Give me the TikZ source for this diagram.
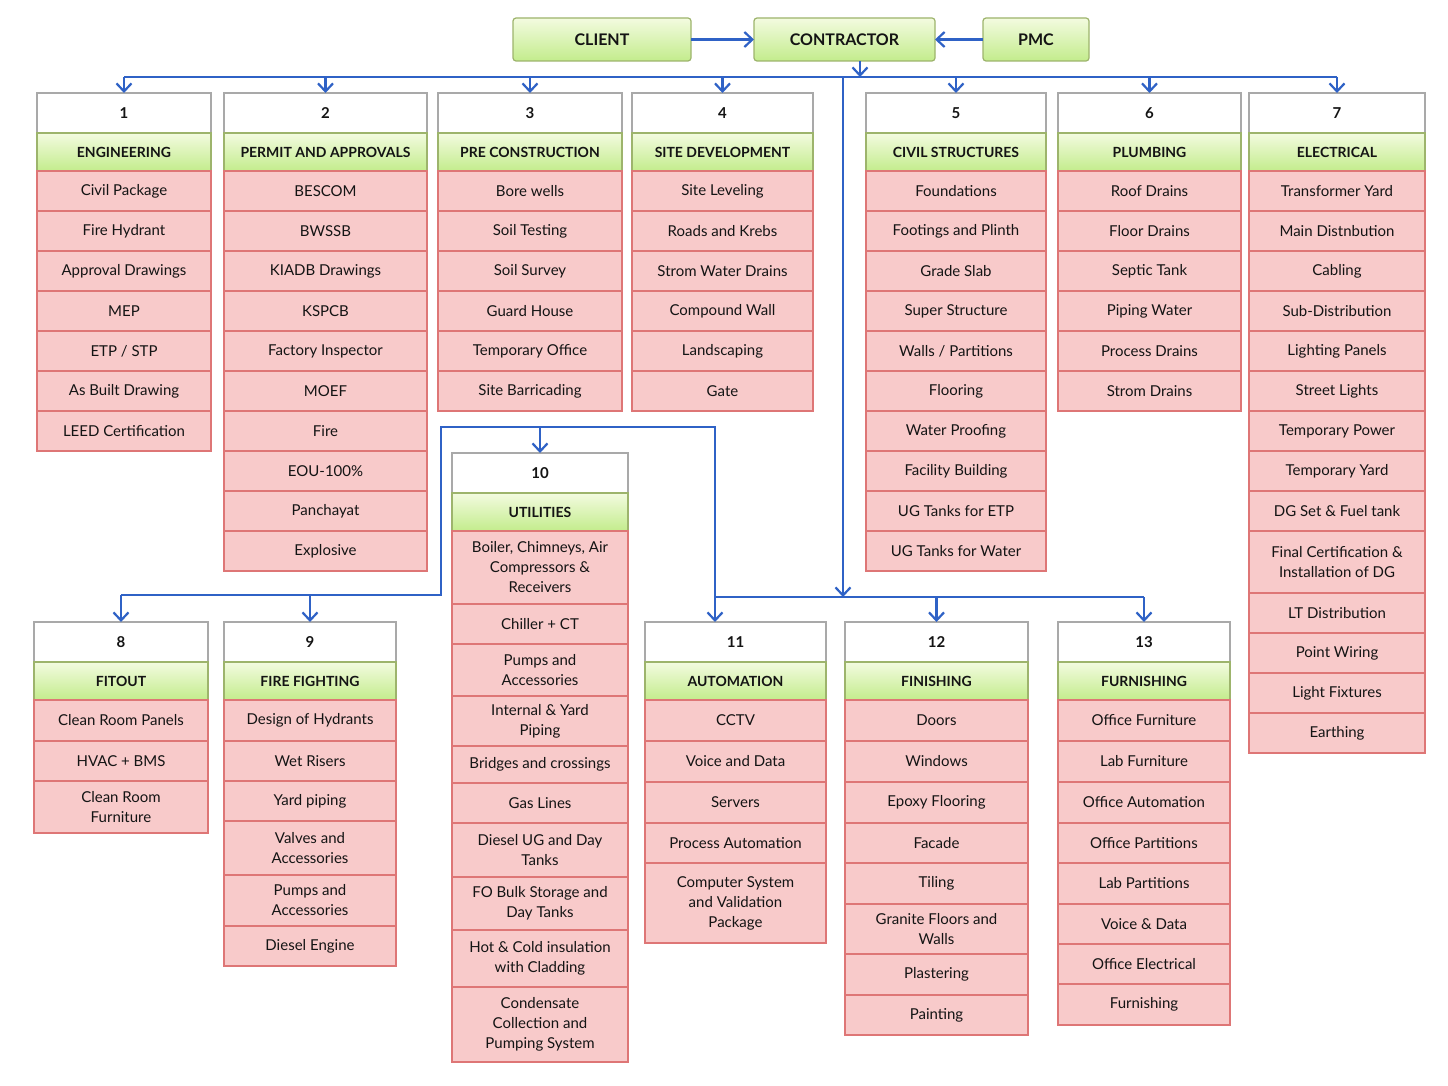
\documentclass[tikz,border=0pt]{standalone}
\usepackage{fontspec}
\setmainfont{Lato}
\usetikzlibrary{positioning,arrows.meta}

\definecolor{linkblue}{HTML}{2F62C6}
\definecolor{numgray}{HTML}{A9A9A9}
\definecolor{headtop}{HTML}{F3FBE0}
\definecolor{headbot}{HTML}{C3EC8C}
\definecolor{headline}{HTML}{9DB46C}
\definecolor{celledge}{HTML}{F8CACA}
\definecolor{cellmid}{HTML}{FCE4E4}
\definecolor{cellline}{HTML}{DE7676}
\definecolor{inkdark}{HTML}{141414}

% one column: name, x centre, y top, width, number, title, rows (height/text)
\newcommand{\wbscol}[7]{%
  \node[numbox, minimum width=#4, anchor=north] (#1) at (#2,#3) {#5};
  \node[headbox, minimum width=#4, below=0pt of #1] (#1-0) {#6};
  \foreach \rowh/\rowtxt [count=\n, remember=\n as \p (initially 0)] in {#7}
    \node[cellbox, minimum width=#4, minimum height=\rowh, below=0pt of #1-\p] (#1-\n) {\rowtxt};
}

\begin{document}
\begin{tikzpicture}[x=1pt,y=-1pt,
    numbox/.style={draw=numgray, fill=white, line width=1.2pt, minimum height=40,
      outer sep=0pt, inner sep=2pt, text=inkdark, font=\fontsize{15}{19}\selectfont\bfseries},
    headbox/.style={draw=headline, top color=headtop, bottom color=headbot, line width=1.2pt,
      minimum height=38, outer sep=0pt, inner sep=2pt, text=inkdark,
      font=\fontsize{14}{18}\selectfont\bfseries},
    cellbox/.style={draw=cellline, top color=celledge, middle color=cellmid, bottom color=celledge,
      line width=1.2pt, outer sep=0pt, inner sep=2pt, align=center, text=inkdark,
      font=\fontsize{15}{20}\selectfont},
    topbox/.style={draw=headline, top color=headtop, bottom color=headbot, line width=1.2pt,
      rounded corners=3pt, minimum height=43, outer sep=0pt, text=inkdark,
      font=\fontsize{16}{20}\selectfont\bfseries},
    linkline/.style={draw=linkblue, line width=2.2pt},
    link/.style={linkline, -{Straight Barb[length=8pt,width=15pt,line width=2.2pt]}}]

  \useasboundingbox[fill=white] (0,0) rectangle (1448,1086);

  % top row
  \node[topbox, minimum width=178] (client) at (602,39.5) {CLIENT};
  \node[topbox, minimum width=181] (contractor) at (844.5,39.5) {CONTRACTOR};
  \node[topbox, minimum width=106] (pmc) at (1036,39.5) {PMC};
  \draw[link] (client) -- (contractor);
  \draw[link] (pmc) -- (contractor);

  % upper columns
  \wbscol{c1}{124}{93}{174}{1}{ENGINEERING}{40/Civil Package, 40/Fire Hydrant,
    40/Approval Drawings, 40/MEP, 40/{ETP / STP}, 40/As Built Drawing, 40/LEED Certification}
  \wbscol{c2}{325.5}{93}{203}{2}{PERMIT AND APPROVALS}{40/BESCOM, 40/BWSSB,
    40/KIADB Drawings, 40/KSPCB, 40/Factory Inspector, 40/MOEF, 40/Fire, 40/EOU-100\%,
    40/Panchayat, 40/Explosive}
  \wbscol{c3}{530}{93}{184}{3}{PRE CONSTRUCTION}{40/Bore wells, 40/Soil Testing,
    40/Soil Survey, 40/Guard House, 40/Temporary Office, 40/Site Barricading}
  \wbscol{c4}{722.5}{93}{181}{4}{SITE DEVELOPMENT}{40/Site Leveling, 40/Roads and Krebs,
    40/Strom Water Drains, 40/Compound Wall, 40/Landscaping, 40/Gate}
  \wbscol{c5}{956}{93}{180}{5}{CIVIL STRUCTURES}{40/Foundations, 40/Footings and Plinth,
    40/Grade Slab, 40/Super Structure, 40/{Walls / Partitions}, 40/Flooring, 40/Water Proofing,
    40/Facility Building, 40/UG Tanks for ETP, 40/UG Tanks for Water}
  \wbscol{c6}{1149.5}{93}{183}{6}{PLUMBING}{40/Roof Drains, 40/Floor Drains,
    40/Septic Tank, 40/Piping Water, 40/Process Drains, 40/Strom Drains}
  \wbscol{c7}{1337}{93}{176}{7}{ELECTRICAL}{40/Transformer Yard, 40/Main Distnbution,
    40/Cabling, 40/Sub-Distribution, 40/Lighting Panels, 40/Street Lights,
    40/Temporary Power, 40/Temporary Yard, 40/DG Set \& Fuel tank,
    62/{Final Certification \&\\Installation of DG}, 40/LT Distribution, 40/Point Wiring,
    40/Light Fixtures, 40/Earthing}

  % lower columns
  \wbscol{c8}{121}{622}{174}{8}{FITOUT}{41/Clean Room Panels, 40/HVAC + BMS,
    52/{Clean Room\\Furniture}}
  \wbscol{c9}{310}{622}{172}{9}{FIRE FIGHTING}{41/Design of Hydrants, 40/Wet Risers,
    40/Yard piping, 54/{Valves and\\Accessories}, 51/{Pumps and\\Accessories},
    40/Diesel Engine}
  \wbscol{c10}{540}{453}{176}{10}{UTILITIES}{73/{Boiler, Chimneys, Air\\Compressors \&\\Receivers},
    40/Chiller + CT, 52/{Pumps and\\Accessories}, 50/{Internal \& Yard\\Piping},
    37/Bridges and crossings, 40/Gas Lines, 54/{Diesel UG and Day\\Tanks},
    53/{FO Bulk Storage and\\Day Tanks}, 57/{Hot \& Cold insulation\\with Cladding},
    75/{Condensate\\Collection and\\Pumping System}}
  \wbscol{c11}{735.5}{622}{181}{11}{AUTOMATION}{41/CCTV, 41/Voice and Data, 41/Servers,
    40/Process Automation, 80/{Computer System\\and Validation\\Package}}
  \wbscol{c12}{936.5}{622}{183}{12}{FINISHING}{41/Doors, 41/Windows, 41/Epoxy Flooring,
    40/Facade, 41/Tiling, 50/{Granite Floors and\\Walls}, 41/Plastering, 40/Painting}
  \wbscol{c13}{1144}{622}{172}{13}{FURNISHING}{41/Office Furniture, 41/Lab Furniture,
    41/Office Automation, 40/Office Partitions, 41/Lab Partitions, 40/Voice \& Data,
    40/Office Electrical, 41/Furnishing}

  % connectors
  \coordinate (drop) at (860,77);
  \coordinate (trunk) at (843,77);
  \coordinate (lowbus) at (843,597);
  \coordinate (jA) at (441,595);
  \coordinate (jB) at (441,427);
  \coordinate (jC) at (715,427);
  \coordinate (jD) at (715,597);

  \draw[link] (contractor.south -| drop) -- (drop);
  \draw[linkline] (c1.north |- drop) -- (c7.north |- drop);
  \foreach \c in {c1,c2,c3,c4,c5,c6,c7}
    \draw[link] (\c.north |- drop) -- (\c.north);
  \draw[link] (trunk) -- (lowbus);

  \draw[linkline] (c8.north |- jA) -- (jA) -- (jB) -- (jC) -- (jD) -- (c13.north |- jD);
  \draw[link] (c10.north |- jB) -- (c10.north);
  \draw[link] (jD) -- (jD |- c11.north);
  \foreach \c in {c8,c9}
    \draw[link] (\c.north |- jA) -- (\c.north);
  \foreach \c in {c12,c13}
    \draw[link] (\c.north |- jD) -- (\c.north);
\end{tikzpicture}
\end{document}
